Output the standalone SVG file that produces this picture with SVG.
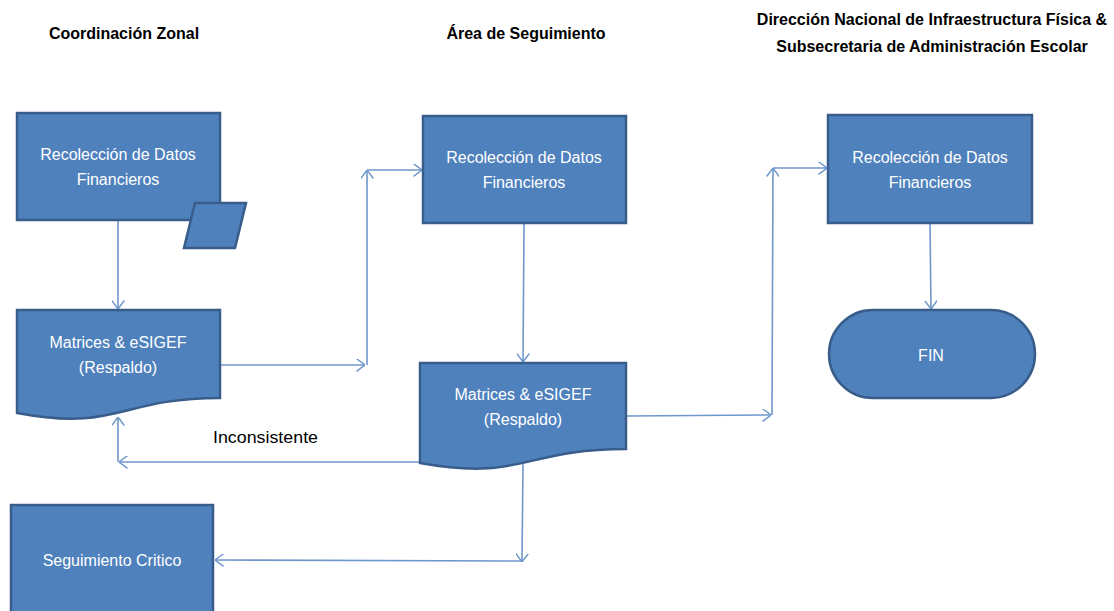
<svg xmlns="http://www.w3.org/2000/svg" width="1114" height="611" viewBox="0 0 1114 611">
<style>
.node{fill:#4f81bd;stroke:#385d8a;stroke-width:2.5}
.nt{font-family:"Liberation Sans",Arial,sans-serif;font-size:16px;fill:#ffffff;text-anchor:middle}
.hd{font-family:"Liberation Sans",Arial,sans-serif;font-size:16px;font-weight:bold;fill:#000000;text-anchor:middle}
.lbl{font-family:"Liberation Sans",Arial,sans-serif;font-size:17px;fill:#000000}
.conn{fill:none;stroke:#6f97cb;stroke-width:1.6}
</style>
<defs>
<marker id="arr" viewBox="0 0 10 14" refX="9.5" refY="7" markerWidth="9" markerHeight="13" markerUnits="userSpaceOnUse" orient="auto">
<path d="M0,0 L9.5,7 L0,14" fill="none" stroke="#6f97cb" stroke-width="1.6"/>
</marker>
</defs>
<rect width="1114" height="611" fill="#ffffff"/>
<g id="headers">
<text class="hd" x="124" y="39">Coordinación Zonal</text>
<text class="hd" x="526" y="39">Área de Seguimiento</text>
<text class="hd" x="932" y="25">Dirección Nacional de Infraestructura Física &amp;</text>
<text class="hd" x="932" y="52">Subsecretaria de Administración Escolar</text>
</g>
<g id="connectors">
<line class="conn" x1="118" y1="221" x2="118" y2="309" marker-end="url(#arr)"/>
<line class="conn" x1="221" y1="365" x2="365" y2="365" marker-end="url(#arr)"/>
<line class="conn" x1="367" y1="365" x2="367" y2="170" marker-end="url(#arr)"/>
<line class="conn" x1="367" y1="170" x2="422" y2="170" marker-end="url(#arr)"/>
<line class="conn" x1="524" y1="224" x2="523" y2="362" marker-end="url(#arr)"/>
<line class="conn" x1="627" y1="416" x2="771" y2="415" marker-end="url(#arr)"/>
<line class="conn" x1="772" y1="415" x2="773" y2="168" marker-end="url(#arr)"/>
<line class="conn" x1="773" y1="168" x2="827" y2="168" marker-end="url(#arr)"/>
<line class="conn" x1="930" y1="224" x2="931" y2="309" marker-end="url(#arr)"/>
<line class="conn" x1="420" y1="462" x2="119" y2="462" marker-end="url(#arr)"/>
<line class="conn" x1="118" y1="462" x2="118" y2="417" marker-end="url(#arr)"/>
<line class="conn" x1="523" y1="464" x2="522" y2="562" marker-end="url(#arr)"/>
<line class="conn" x1="522" y1="561" x2="215" y2="560" marker-end="url(#arr)"/>
<text class="lbl" x="213" y="443" textLength="105" lengthAdjust="spacingAndGlyphs">Inconsistente</text>
</g>
<g id="n1">
<rect class="node" x="17" y="113" width="203" height="107"/>
<polygon class="node" points="195,203 246,203 235,248 184,248"/>
<text class="nt" x="118" y="160">Recolección de Datos</text>
<text class="nt" x="118" y="185">Financieros</text>
</g>
<g id="n2">
<path class="node" d="M17,310 H220 V398 C118.5,398 118.5,432 17,413 Z"/>
<text class="nt" x="118" y="348">Matrices &amp; eSIGEF</text>
<text class="nt" x="118" y="373">(Respaldo)</text>
</g>
<g id="n3">
<rect class="node" x="423" y="116" width="203" height="107"/>
<text class="nt" x="524" y="163">Recolección de Datos</text>
<text class="nt" x="524" y="188">Financieros</text>
</g>
<g id="n4">
<path class="node" d="M420,363 H626 V449 C523,449 523,481.5 420,463 Z"/>
<text class="nt" x="523" y="400">Matrices &amp; eSIGEF</text>
<text class="nt" x="523" y="425">(Respaldo)</text>
</g>
<g id="n5">
<rect class="node" x="828" y="115" width="204" height="108"/>
<text class="nt" x="930" y="163">Recolección de Datos</text>
<text class="nt" x="930" y="188">Financieros</text>
</g>
<g id="n6">
<rect class="node" x="829" y="310" width="206" height="88" rx="44" ry="44"/>
<text class="nt" x="931" y="361">FIN</text>
</g>
<g id="n7">
<rect class="node" x="11" y="505" width="202" height="120"/>
<text class="nt" x="112" y="566">Seguimiento Critico</text>
</g>
</svg>
